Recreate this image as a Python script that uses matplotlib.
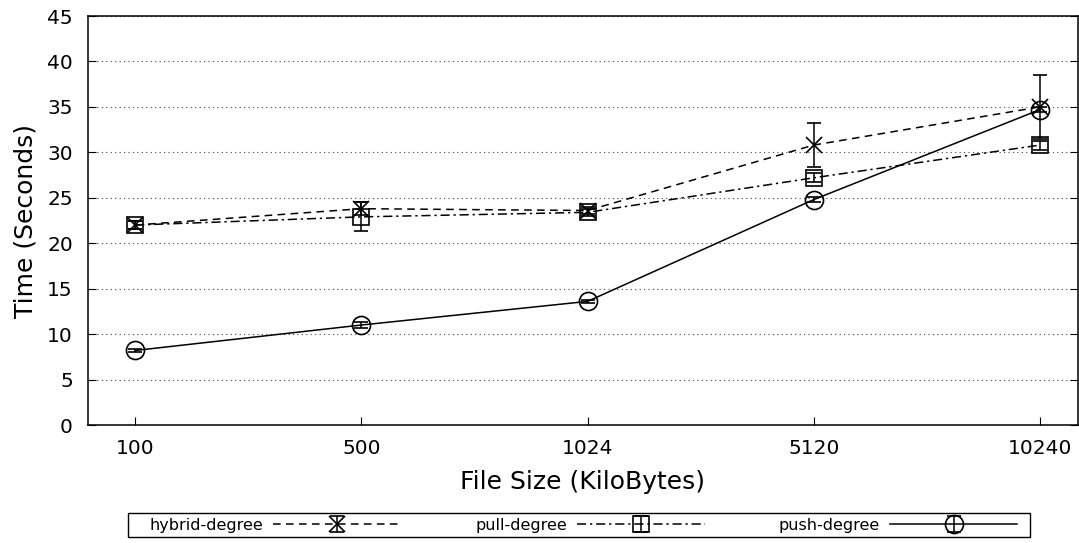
import numpy as np
import matplotlib
matplotlib.use('Agg')
import matplotlib.pyplot as plt
from matplotlib.patches import Rectangle

sizes = ['100', '500', '1024', '5120', '10240']  # file sizes in KB
hybrid = [22.0, 23.8, 23.6, 30.8, 35.0]
hybrid_err = [0.4, 0.7, 0.4, 2.4, 3.5]
pull = [22.0, 22.9, 23.4, 27.2, 30.8]
pull_err = [0.4, 1.6, 0.4, 0.5, 0.5]
push = [8.2, 11.0, 13.6, 24.8, 34.7]
push_err = [0.2, 0.3, 0.2, 0.3, 0.3]

plt.rcParams['font.family'] = 'DejaVu Sans'
fig = plt.figure(figsize=(10.79, 5.43), dpi=100)
ax = fig.add_axes([0.0816, 0.2173, 0.9174, 0.7532])

x = np.arange(len(sizes))
common = dict(color='black', lw=1.1, capsize=5, elinewidth=1.1, capthick=1.1, mfc='none', mew=1.2)
ax.errorbar(x, hybrid, yerr=hybrid_err, ls=(0, (5, 3.5)), marker='x', ms=11, label='hybrid-degree', **common)
ax.errorbar(x, pull, yerr=pull_err, ls=(0, (6, 2.5, 1.5, 2.5)), marker='s', ms=12, label='pull-degree', **common)
ax.errorbar(x, push, yerr=push_err, ls='-', marker='o', ms=13, label='push-degree', **common)

ax.set_xlim(-0.208, 4.168)
ax.set_ylim(0, 45)
ax.set_xticks(x)
ax.set_xticklabels(sizes)
ax.set_yticks(range(0, 46, 5))
ax.tick_params(direction='in', top=False, right=True, labelsize=14.5, length=6)
ax.tick_params(axis='x', pad=10)
ax.tick_params(axis='y', pad=11)
ax.yaxis.grid(True, ls=(0, (1, 3)), color='#444444', lw=0.8)
ax.set_xlabel('File Size (KiloBytes)', fontsize=18, labelpad=9)
ax.set_ylabel('Time (Seconds)', fontsize=18, labelpad=7)
for s in ax.spines.values():
    s.set_linewidth(1.1)

# legend box drawn separately, entries spread inside it
fig.patches.append(Rectangle((0.1186, 0.011), 0.836, 0.044, transform=fig.transFigure,
                             fill=False, edgecolor='black', lw=1.0))
leg = fig.legend(loc='center left', bbox_to_anchor=(0.139, 0.033, 0.804, 0.0), mode='expand',
                 ncol=3, markerfirst=False, fontsize=11.5, handlelength=8, frameon=False,
                 handletextpad=0.6, borderaxespad=0, borderpad=0)

fig.savefig('out.png', dpi=100)
